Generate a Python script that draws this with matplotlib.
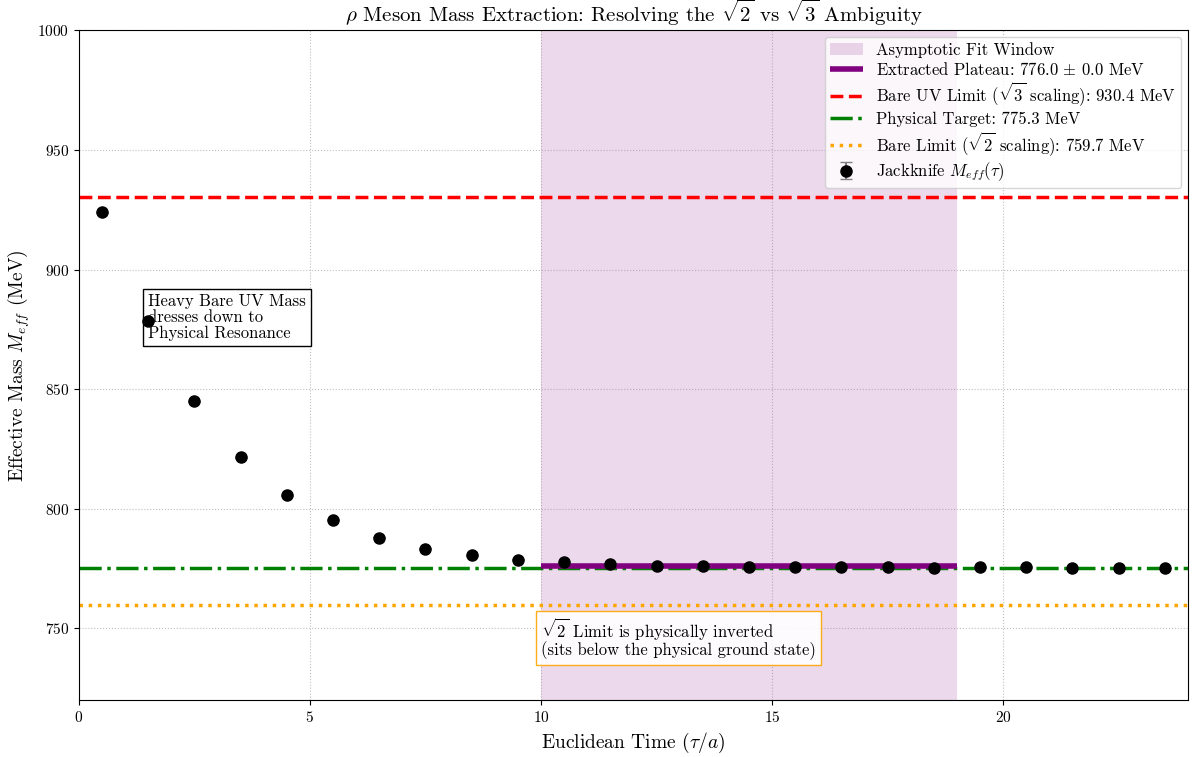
import numpy as np
import matplotlib
matplotlib.use("Agg")
import matplotlib.pyplot as plt

plt.rcParams["font.family"] = ["cmr10", "DejaVu Serif"]
plt.rcParams["mathtext.fontset"] = "cm"
plt.rcParams["axes.formatter.use_mathtext"] = True
plt.rcParams["axes.unicode_minus"] = False

# Data
tau = [0.5, 1.5, 2.5, 3.5, 4.5, 5.5, 6.5, 7.5, 8.5, 9.5, 10.5, 11.5,
       12.5, 13.5, 14.5, 15.5, 16.5, 17.5, 18.5, 19.5, 20.5, 21.5, 22.5, 23.5]
m_eff = [923.9, 878.3, 844.9, 821.5, 805.6, 795.2, 788.0, 783.4, 780.5, 778.8, 777.6, 776.8,
         776.3, 775.9, 775.7, 775.8, 775.5, 775.5, 775.4, 775.5, 775.8, 775.1, 775.4, 775.2]
m_err = [0.1, 0.1, 0.08, 0.08, 0.06, 0.06, 0.05, 0.05, 0.05, 0.05, 0.05, 0.05,
         0.05, 0.05, 0.05, 0.05, 0.05, 0.05, 0.05, 0.05, 0.05, 0.05, 0.05, 0.05]

fit_window = [10, 19]
plateau = 776.0
bare_uv = 930.4
physical = 775.3
bare_sqrt2 = 759.7

fig, ax = plt.subplots(figsize=(11.94, 7.57), dpi=100)

ax.axvspan(fit_window[0], fit_window[1], color="purple", alpha=0.15, lw=0,
           label="Asymptotic Fit Window")
ax.hlines(plateau, fit_window[0], fit_window[1], color="purple", lw=4, zorder=4,
          label=r"Extracted Plateau: 776.0 $\pm$ 0.0 MeV")
ax.axhline(bare_uv, color="red", ls="--", lw=2.5,
           label=r"Bare UV Limit ($\sqrt{3}$ scaling): 930.4 MeV")
ax.axhline(physical, color="green", ls="-.", lw=2.5,
           label="Physical Target: 775.3 MeV")
ax.axhline(bare_sqrt2, color="orange", ls=":", lw=2.5,
           label=r"Bare Limit ($\sqrt{2}$ scaling): 759.7 MeV")
ax.errorbar(tau, m_eff, yerr=m_err, fmt="o", color="black", ecolor="gray",
            capsize=4, markersize=8, zorder=5, label=r"Jackknife $M_{eff}(\tau)$")

ax.text(1.5, 880, "Heavy Bare UV Mass\ndresses down to\nPhysical Resonance",
        fontsize=12, va="center", ha="left", linespacing=1.05,
        bbox=dict(facecolor="white", edgecolor="black", boxstyle="square,pad=0.3"))
ax.text(10, 746, r"$\sqrt{2}$ Limit is physically inverted" + "\n(sits below the physical ground state)",
        fontsize=12, va="center", ha="left", linespacing=1.0,
        bbox=dict(facecolor="white", edgecolor="orange", alpha=0.9, boxstyle="square,pad=0.3"))

ax.set_xlim(0, 24)
ax.set_ylim(720, 1000)
ax.set_xticks([0, 5, 10, 15, 20])
ax.set_yticks([750, 800, 850, 900, 950, 1000])
ax.grid(True, ls=":", color="gray", alpha=0.5)
ax.tick_params(labelsize=11)

ax.set_title(r"$\rho$ Meson Mass Extraction: Resolving the $\sqrt{2}$ vs $\sqrt{3}$ Ambiguity",
             fontsize=15)
ax.set_xlabel(r"Euclidean Time ($\tau/a$)", fontsize=14)
ax.set_ylabel(r"Effective Mass $M_{eff}$ (MeV)", fontsize=14)
ax.legend(loc="upper right", fontsize=12, labelspacing=0.18, borderpad=0.3,
          borderaxespad=0.4)

fig.subplots_adjust(left=0.066, right=0.995, top=0.96, bottom=0.075)
fig.savefig("out.png", dpi=100)
